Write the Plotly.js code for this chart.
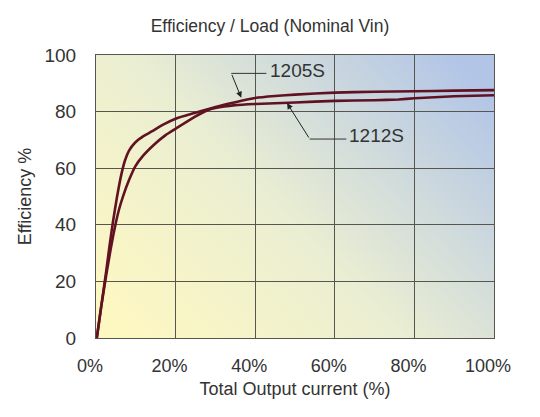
<!DOCTYPE html>
<html>
<head>
<meta charset="utf-8">
<script src="https://cdn.plot.ly/plotly-3.0.1.min.js"></script>
<style>
  html, body { margin: 0; padding: 0; background: #fff; }
  #chart { width: 540px; height: 417px; }
</style>
</head>
<body>
<div id="chart"></div>
<script>
// values
const load1205 = [0, 1.3, 2.6, 3.4, 4.2, 5.3, 6.4, 7.3, 8.3, 9.8, 12, 14, 17, 20, 25, 30, 35, 40, 45, 50, 60, 70, 80, 90, 100];
const eff1205 = [-2, 11, 24, 32.5, 40.5, 50, 58, 62.8, 66.2, 69, 71.4, 73, 75.5, 77.5, 79.6, 81.6, 83.3, 84.8, 85.5, 86, 86.7, 87, 87.2, 87.4, 87.6];

const load1212 = [0, 1.3, 2.6, 3.7, 4.8, 5.8, 6.9, 8.3, 9.8, 11.9, 14.5, 17.4, 20.3, 25, 28, 30, 35, 40, 50, 60, 70, 76, 80, 90, 100];
const eff1212 = [-2, 11, 22.5, 31.5, 39.5, 45.5, 50.5, 55.8, 60.5, 64.5, 68.2, 71.6, 74.2, 78.3, 80.5, 81.3, 82.3, 82.7, 83.2, 83.8, 84, 84.3, 84.7, 85.4, 85.8];

const xTicks = [0, 20, 40, 60, 80, 100];
const xTickText = ['0%', '20%', '40%', '60%', '80%', '100%'];
const yTicks = [0, 20, 40, 60, 80, 100];

const FONT = 'Liberation Sans, Arial, Helvetica, sans-serif';
const INK = '#333333';
const CURVE = '#611222';
const GRID = '#56554e';

const bgSvg =
  '<svg xmlns="http://www.w3.org/2000/svg" width="400" height="284" viewBox="0 0 400 284" preserveAspectRatio="none">' +
  '<defs><linearGradient id="g" x1="0" y1="0.85" x2="1" y2="0.15">' +
  '<stop offset="0" stop-color="#fdf7c2"/>' +
  '<stop offset="0.45" stop-color="#eaeed2"/>' +
  '<stop offset="1" stop-color="#b2c5e7"/>' +
  '</linearGradient></defs>' +
  '<rect width="400" height="284" fill="url(#g)"/></svg>';

const traces = [
  {
    x: load1205, y: eff1205, name: '1205S',
    type: 'scatter', mode: 'lines', cliponaxis: false,
    line: { color: CURVE, width: 2.6, shape: 'spline', smoothing: 0.5 },
  },
  {
    x: load1212, y: eff1212, name: '1212S',
    type: 'scatter', mode: 'lines', cliponaxis: false,
    line: { color: CURVE, width: 2.6, shape: 'spline', smoothing: 0.5 },
  },
];

const layout = {
  width: 540,
  height: 417,
  margin: { l: 96, r: 46, t: 55, b: 79 },
  paper_bgcolor: '#ffffff',
  plot_bgcolor: 'rgba(0,0,0,0)',
  showlegend: false,
  font: { family: FONT, color: INK, size: 18 },
  title: {
    text: 'Efficiency / Load (Nominal Vin)',
    x: 0.5, xanchor: 'center',
    y: 0.938, yanchor: 'middle',
    font: { family: FONT, size: 17.5, color: INK },
  },
  xaxis: {
    range: [0, 100],
    tickvals: xTicks,
    ticktext: xTickText,
    ticklabelshift: -6,
    ticklabelstandoff: 11,
    tickfont: { size: 18 },
    showgrid: true, gridcolor: GRID, gridwidth: 1,
    showline: true, linecolor: GRID, linewidth: 1, mirror: true,
    zeroline: false,
    title: { text: 'Total Output current (%)', standoff: 7, font: { size: 18 } },
  },
  yaxis: {
    range: [0, 100],
    tickvals: yTicks,
    ticklabelstandoff: 15,
    tickfont: { size: 19 },
    showgrid: true, gridcolor: GRID, gridwidth: 1,
    showline: true, linecolor: GRID, linewidth: 1, mirror: true,
    zeroline: false,
    title: { text: 'Efficiency %', standoff: 8, font: { size: 18 } },
  },
  images: [{
    source: 'data:image/svg+xml;charset=utf-8,' + encodeURIComponent(bgSvg),
    xref: 'paper', yref: 'paper',
    x: 0, y: 1, sizex: 1, sizey: 1,
    sizing: 'stretch', layer: 'below',
    xanchor: 'left', yanchor: 'top',
  }],
  shapes: [
    // horizontal parts of the leader lines
    { type: 'line', xref: 'x', yref: 'y', x0: 34.0, y0: 93.5, x1: 42.8, y1: 93.5,
      line: { color: INK, width: 1 } },
    { type: 'line', xref: 'x', yref: 'y', x0: 53.7, y0: 70.3, x1: 62.9, y1: 70.3,
      line: { color: INK, width: 1 } },
  ],
  annotations: [
    { x: 43.2, y: 94.6, xref: 'x', yref: 'y', text: '1205S', showarrow: false,
      xanchor: 'left', yanchor: 'middle', font: { size: 19, color: INK } },
    { x: 63.0, y: 71.6, xref: 'x', yref: 'y', text: '1212S', showarrow: false,
      xanchor: 'left', yanchor: 'middle', font: { size: 19, color: INK } },
    // arrow parts of the leader lines
    { x: 36.5, y: 84.9, ax: 34.0, ay: 93.5, xref: 'x', yref: 'y', axref: 'x', ayref: 'y',
      text: '', showarrow: true, arrowhead: 2, arrowsize: 1.2, arrowwidth: 1, arrowcolor: '#222' },
    { x: 48.0, y: 83.0, ax: 53.7, ay: 70.3, xref: 'x', yref: 'y', axref: 'x', ayref: 'y',
      text: '', showarrow: true, arrowhead: 2, arrowsize: 1.2, arrowwidth: 1, arrowcolor: '#222' },
  ],
};

Plotly.newPlot('chart', traces, layout, { displayModeBar: false, staticPlot: true });
</script>
</body>
</html>
